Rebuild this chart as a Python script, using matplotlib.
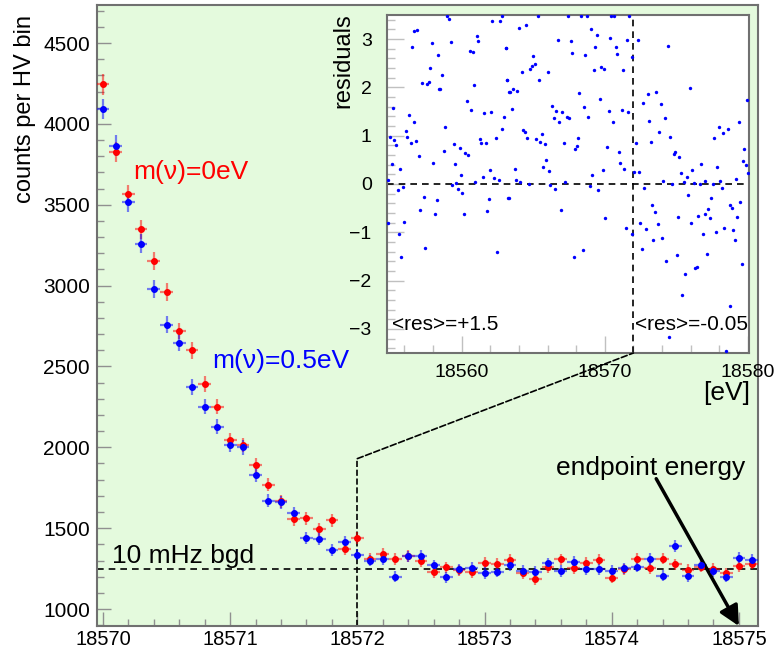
import numpy as np
import matplotlib
matplotlib.use("Agg")
import matplotlib.pyplot as plt
from matplotlib.ticker import MultipleLocator
from matplotlib.patches import ConnectionPatch

plt.rcParams['font.family'] = ['Liberation Sans', 'DejaVu Sans']

# spectrum near the endpoint, counts per HV bin
energy = [18570.0, 18570.1, 18570.2, 18570.3, 18570.4, 18570.5, 18570.6, 18570.7, 18570.8, 18570.9,
          18571.0, 18571.1, 18571.2, 18571.3, 18571.4, 18571.5, 18571.6, 18571.7, 18571.8, 18571.9,
          18572.0, 18572.1, 18572.2, 18572.3, 18572.4, 18572.5, 18572.6, 18572.7, 18572.8, 18572.9,
          18573.0, 18573.1, 18573.2, 18573.3, 18573.4, 18573.5, 18573.6, 18573.7, 18573.8, 18573.9,
          18574.0, 18574.1, 18574.2, 18574.3, 18574.4, 18574.5, 18574.6, 18574.7, 18574.8, 18574.9,
          18575.0, 18575.1]

counts_m0 = [4245, 3825, 3564, 3347, 3152, 2959, 2719, 2600, 2393, 2251,
             2046, 2015, 1892, 1769, 1665, 1554, 1562, 1492, 1548, 1374,
             1440, 1308, 1338, 1308, 1328, 1297, 1227, 1258, 1240, 1226,
             1287, 1277, 1304, 1220, 1183, 1260, 1307, 1255, 1283, 1306,
             1194, 1246, 1312, 1254, 1312, 1276, 1244, 1262, 1249, 1220,
             1265, 1281]

counts_m05 = [4091, 3866, 3517, 3260, 2980, 2759, 2647, 2372, 2251, 2126,
              2015, 1999, 1829, 1671, 1660, 1593, 1441, 1436, 1367, 1414,
              1337, 1300, 1308, 1199, 1325, 1326, 1270, 1196, 1245, 1254,
              1223, 1231, 1271, 1236, 1229, 1282, 1235, 1289, 1246, 1246,
              1236, 1252, 1262, 1308, 1207, 1390, 1204, 1270, 1233, 1199,
              1318, 1303]

bgd_level = 1250
zoom_edge = 18572
zoom_top = 1930

# residuals (inset)
res_e = [18558.95, 18559.14, 18562.15, 18562.71, 18562.80, 18556.69, 18556.90, 18561.05, 18561.17, 18559.26,
         18557.95, 18556.50, 18563.08, 18560.58, 18560.77, 18558.32, 18557.81, 18558.65, 18563.19, 18557.23,
         18557.55, 18557.69, 18560.86, 18558.39, 18558.51, 18563.31, 18560.35, 18555.20, 18560.65, 18562.05,
         18561.56, 18556.32, 18562.98, 18556.64, 18558.84, 18562.85, 18556.09, 18554.99, 18556.20, 18555.29,
         18556.81, 18561.26, 18562.38, 18556.43, 18561.35, 18561.70, 18559.44, 18555.43, 18559.86, 18558.74,
         18560.23, 18560.44, 18557.02, 18555.11, 18558.02, 18559.54, 18555.71, 18561.98, 18559.98, 18561.49,
         18562.26, 18562.59, 18554.87, 18560.96, 18559.61, 18559.33, 18555.90, 18555.53, 18559.74, 18560.05,
         18557.34, 18558.25, 18563.26, 18561.89, 18557.11, 18561.75, 18558.14, 18560.16, 18555.99, 18554.83,
         18555.62, 18557.44, 18562.50, 18555.76,
         18565.31, 18567.41, 18568.34, 18568.74, 18570.44, 18570.63, 18571.70, 18563.99, 18564.52, 18569.04,
         18569.46, 18570.37, 18566.71, 18567.65, 18571.56, 18563.10, 18569.35, 18570.75, 18567.74, 18570.86,
         18565.01, 18568.65, 18565.13, 18564.89, 18564.80, 18564.20, 18566.01, 18569.77, 18569.95, 18569.23,
         18571.26, 18563.19, 18565.41, 18563.59, 18563.38, 18563.89, 18568.23, 18569.65, 18566.34, 18568.53,
         18563.50, 18566.62, 18567.04, 18570.26, 18571.17, 18571.65, 18566.43, 18567.34, 18567.53, 18568.86,
         18566.83, 18570.56, 18564.31, 18564.41, 18564.59, 18565.62, 18565.20, 18565.50, 18565.80, 18567.13,
         18568.13, 18568.04, 18567.95, 18570.14, 18570.98, 18565.90, 18571.07, 18563.73, 18565.71, 18566.13,
         18571.37, 18569.86, 18569.14, 18563.80, 18564.10, 18564.69, 18566.20, 18566.50, 18567.23, 18568.97,
         18569.56, 18563.29, 18566.92, 18570.05, 18571.47, 18568.46, 18567.83,
         18572.31, 18571.93, 18574.40, 18575.97, 18573.01, 18573.59, 18572.70, 18573.91, 18579.97, 18574.22,
         18573.10, 18579.37, 18577.95, 18578.58, 18578.23, 18573.80, 18577.64, 18574.59, 18573.24, 18572.19,
         18579.74, 18574.92, 18574.82, 18575.22, 18579.63, 18579.86, 18576.73, 18577.83, 18576.13, 18580.00,
         18572.07, 18572.40, 18575.34, 18575.73, 18579.16, 18574.10, 18576.97, 18578.04, 18575.55, 18576.22,
         18576.66, 18577.53, 18574.71, 18572.77, 18578.18, 18575.80, 18577.43, 18573.31, 18578.76, 18578.88,
         18573.49, 18579.46, 18577.22, 18575.15, 18576.52, 18577.01, 18577.36, 18579.25, 18572.49, 18573.70,
         18576.04, 18572.91, 18578.34, 18578.95, 18571.89, 18576.85, 18577.76, 18574.01, 18573.40, 18579.07,
         18572.59, 18577.13, 18575.03, 18574.29, 18576.43, 18576.34, 18579.58, 18575.62, 18575.43, 18578.76,
         18574.50, 18578.46]

res_v = [3.48, 3.41, 3.38, 3.38, 3.47, 3.16, 3.19, 3.07, 2.96, 2.94,
         2.92, 2.83, 2.82, 2.75, 2.74, 2.67, 2.40, 2.26, 2.15, 2.10,
         2.07, 2.12, 2.05, 1.97, 1.97, 1.90, 1.71, 1.57, 1.53, 1.50,
         1.46, 1.43, 1.38, 1.29, 1.18, 1.14, 1.10, 0.98, 0.98, 0.91,
         0.90, 0.94, 0.96, 0.85, 0.85, 0.84, 0.83, 0.80, 0.74, 0.69,
         0.65, 0.61, 0.58, 0.42, 0.44, 0.42, 0.32, 0.29, 0.19, 0.15,
         0.12, 0.08, 0.08, 0.04, 0.02, -0.03, -0.07, -0.12, -0.11, -0.18,
         -0.27, -0.33, -0.29, -0.31, -0.53, -0.56, -0.62, -0.62, -0.78, -0.80,
         -1.03, -1.33, -1.41, -1.51,
         3.47, 3.47, 3.47, 3.47, 3.47, 3.47, 3.47, 3.23, 3.30, 3.21,
         3.08, 3.02, 2.99, 2.97, 2.98, 2.82, 2.83, 2.83, 2.71, 2.69,
         2.66, 2.68, 2.48, 2.45, 2.39, 2.32, 2.32, 2.42, 2.38, 2.36,
         2.36, 2.15, 2.15, 1.97, 1.90, 1.92, 1.88, 1.77, 1.61, 1.60,
         1.55, 1.51, 1.49, 1.51, 1.53, 1.49, 1.37, 1.38, 1.37, 1.38,
         1.28, 1.29, 1.12, 1.07, 0.95, 1.03, 0.94, 0.88, 0.83, 0.84,
         0.95, 0.78, 0.73, 0.77, 0.67, 0.50, 0.43, 0.32, 0.35, 0.26,
         0.31, 0.30, 0.18, 0.08, 0.04, -0.01, -0.03, -0.10, 0.04, -0.04,
         -0.12, -0.29, -0.53, -0.71, -0.91, -1.37, -1.52,
         2.98, 2.63, 2.85, 1.99, 1.86, 1.90, 1.68, 1.66, 1.73, 1.37,
         1.31, 1.29, 1.17, 1.13, 1.06, 1.08, 0.95, 0.98, 0.87, 0.84,
         0.73, 0.66, 0.62, 0.56, 0.48, 0.39, 0.41, 0.36, 0.30, 0.22,
         0.24, 0.24, 0.22, 0.14, 0.10, 0.07, 0.07, 0.07, 0.04, 0.02,
         -0.01, -0.01, -0.01, -0.09, -0.09, -0.23, -0.29, -0.44, -0.44, -0.49,
         -0.58, -0.38, -0.51, -0.69, -0.66, -0.63, -0.71, -0.69, -0.81, -0.82,
         -0.81, -0.93, -0.91, -0.96, -1.04, -1.03, -1.00, -1.11, -1.17, -1.16,
         -1.35, -1.45, -1.47, -1.59, -1.72, -1.74, -1.66, -1.87, -2.29, -2.52,
         -3.17, -3.46]

bg = '#e4fadd'
frame = '#707070'

fig = plt.figure(figsize=(7.79, 6.49), dpi=100)
fig.patch.set_facecolor('white')

ax = fig.add_axes([0.1245, 0.0354, 0.8485, 0.9569])
ax.set_facecolor(bg)

for y, col in [(counts_m0, '#ff0000'), (counts_m05, '#0000ff')]:
    y = np.array(y, dtype=float)
    eb = ax.errorbar(energy, y, xerr=0.05, yerr=np.sqrt(y), fmt='o', ms=4,
                     color=col, mec=col, elinewidth=1.6, capsize=0, zorder=3)
    for lc in eb[2]:
        lc.set_alpha(0.5)

ax.set_xlim(18569.953, 18575.15)
ax.set_ylim(895, 4735)
ax.xaxis.set_major_locator(MultipleLocator(1))
ax.xaxis.set_minor_locator(MultipleLocator(0.2))
ax.yaxis.set_major_locator(MultipleLocator(500))
ax.yaxis.set_minor_locator(MultipleLocator(100))
ax.xaxis.set_major_formatter(matplotlib.ticker.FormatStrFormatter('%d'))
ax.yaxis.set_major_formatter(matplotlib.ticker.FormatStrFormatter('%d'))
ax.tick_params(which='both', direction='in', color='#909090', labelsize=15, width=1)
ax.tick_params(axis='x', labelsize=14.5)
ax.tick_params(which='major', length=10)
ax.tick_params(which='minor', length=5)
ax.tick_params(axis='y', pad=5)
ax.tick_params(axis='x', pad=3)
for s in ax.spines.values():
    s.set_color(frame)
    s.set_linewidth(1.5)

# background level and zoom marker
ax.axhline(bgd_level, color='black', ls='--', lw=1.2, dashes=(4, 3), zorder=2)
ax.vlines(zoom_edge, 895, zoom_top, color='black', ls='--', lw=1.2, zorder=2)

ax.text(18570.236, 3701, 'm(ν)=0eV', color='#ff0000', fontsize=19, va='center')
ax.text(18570.86, 2532, 'm(ν)=0.5eV', color='#0000ff', fontsize=19, va='center')
ax.text(18570.07, 1325, '10 mHz bgd', color='black', fontsize=19, va='center')
ax.text(18573.56, 1874, 'endpoint energy', color='black', fontsize=19, va='center')
ax.annotate('', xy=(18575.0, 895), xytext=(18574.35, 1806),
            arrowprops=dict(arrowstyle='-|>,head_length=1.2,head_width=0.6',
                            color='black', lw=2.5, shrinkA=0, shrinkB=0))

fig.text(25 / 779, 1 - 15 / 649, 'counts per HV bin', rotation=90,
         ha='center', va='top', fontsize=17)

# inset with residuals
axin = fig.add_axes([0.4968, 0.4561, 0.4647, 0.5208])
axin.set_facecolor('white')
axin.scatter(res_e, res_v, s=6, color='#0000ff', zorder=3, linewidths=0)
axin.set_xlim(18554.78, 18580.08)
axin.set_ylim(-3.5, 3.5)
axin.axhline(0, color='black', ls='--', lw=1.2, dashes=(4, 3), zorder=2)
axin.axvline(zoom_edge, color='black', ls='--', lw=1.2, dashes=(4, 3), zorder=2)
axin.xaxis.set_major_locator(MultipleLocator(10))
axin.xaxis.set_minor_locator(MultipleLocator(2))
axin.yaxis.set_major_locator(MultipleLocator(1))
axin.yaxis.set_minor_locator(MultipleLocator(0.2))
axin.xaxis.set_major_formatter(matplotlib.ticker.FormatStrFormatter('%d'))
axin.tick_params(which='both', direction='in', color='#c0c0c0', labelsize=14, width=1)
axin.tick_params(which='major', length=12)
axin.tick_params(which='minor', length=6)
axin.tick_params(axis='y', pad=11)
axin.tick_params(axis='x', pad=8)
for s in axin.spines.values():
    s.set_color(frame)
    s.set_linewidth(1.5)

axin.text(0.015, 0.085, '<res>=+1.5', transform=axin.transAxes, fontsize=15, va='center')
axin.text(0.685, 0.085, '<res>=-0.05', transform=axin.transAxes, fontsize=15, va='center')

fig.text(343 / 779, 1 - 13 / 649, 'residuals', rotation=90, ha='center', va='top', fontsize=17)
fig.text(750 / 779, 1 - 393 / 649, '[eV]', ha='right', va='center', fontsize=19)

con = ConnectionPatch(xyA=(zoom_edge, zoom_top), coordsA=ax.transData,
                      xyB=(zoom_edge, -3.5), coordsB=axin.transData,
                      color='black', ls='--', lw=1.2)
fig.add_artist(con)

fig.savefig('out.png', dpi=100)
